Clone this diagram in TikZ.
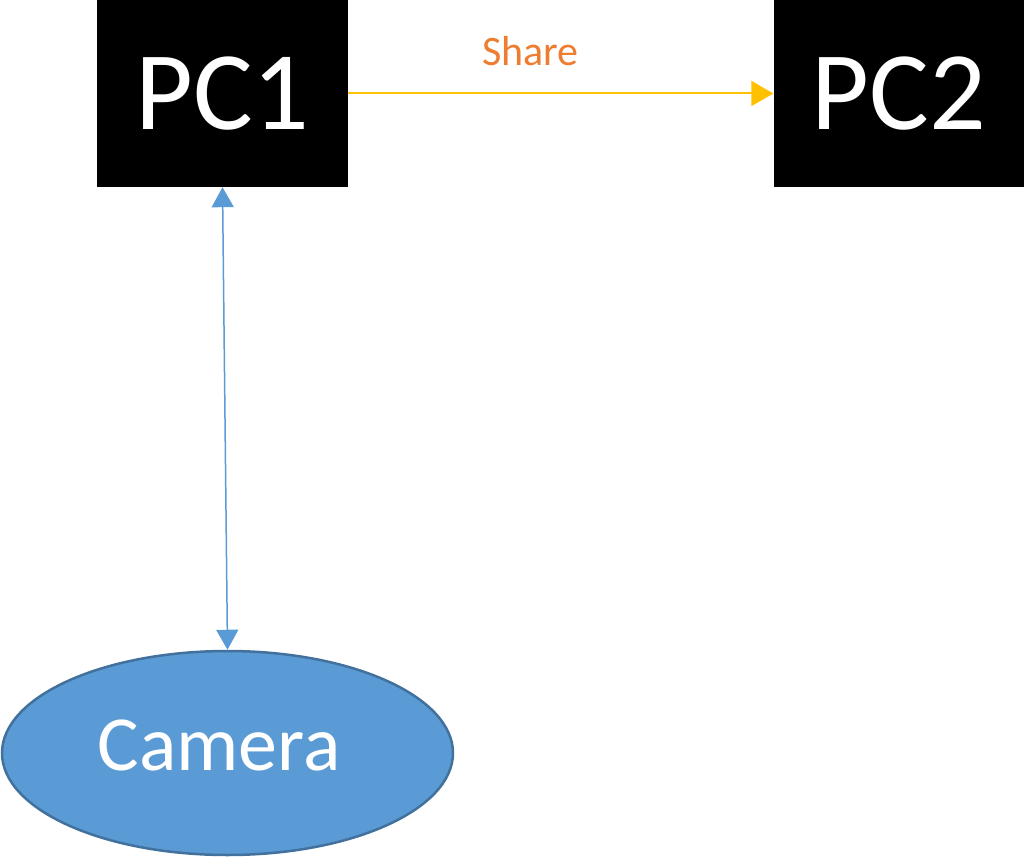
\documentclass[tikz,border=0pt]{standalone}
\usepackage{fontspec}
\setmainfont{Carlito}
\usetikzlibrary{shapes.geometric,arrows.meta}
\definecolor{boxblue}{HTML}{5B9BD5}
\definecolor{edgeblue}{HTML}{41719C}
\definecolor{shareorange}{HTML}{ED7D31}
\definecolor{sharegold}{HTML}{FFC000}
\tikzset{
  pcbox/.style={fill=black, draw=none, text=white, minimum width=251pt, minimum height=187pt, inner sep=0pt, font=\fontsize{112}{120}\selectfont},
  cambox/.style={ellipse, fill=boxblue, draw=edgeblue, line width=2.5pt, minimum width=451pt, minimum height=204pt, inner sep=0pt, text=white, font=\fontsize{78}{84}\selectfont},
  bluelink/.style={color=boxblue, line width=1.5pt, {Triangle[length=20pt,width=22pt]}-{Triangle[length=20pt,width=22pt]}},
  goldlink/.style={color=sharegold, line width=2pt, -{Triangle[length=22pt,width=25pt]}},
}
\begin{document}
\begin{tikzpicture}[x=1pt,y=-1pt]
\useasboundingbox (0,0) rectangle (1024,858);
\node[pcbox] (pc1) at (222.5,93.5) {PC1};
\node[pcbox] (pc2) at (899,93.5) {PC2};
\node[cambox] (cam) at (227.5,753) {};
\node[text=white, font=\fontsize{78}{84}\selectfont, inner sep=0pt] (camtext) at (219,745) {Camera};
\draw[goldlink] (pc1.east) -- (pc2.west);
\node[text=shareorange, font=\fontsize{42}{46}\selectfont, inner sep=0pt] (share) at (530.5,51) {Share};
\draw[bluelink] (pc1.south) -- (cam.north);
\end{tikzpicture}
\end{document}
